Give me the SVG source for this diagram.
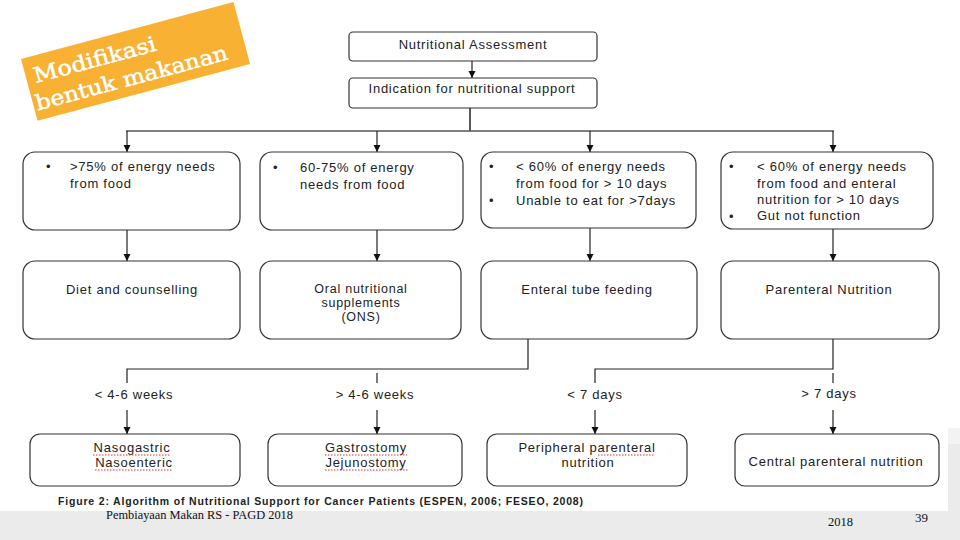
<svg xmlns="http://www.w3.org/2000/svg" width="960" height="540" viewBox="0 0 960 540">
<defs>
<marker id="ah" markerUnits="userSpaceOnUse" markerWidth="8" markerHeight="8" refX="7" refY="3.5" orient="auto">
<path d="M0,0 L7,3.5 L0,7 z" fill="#111"/>
</marker>
<style>
.box{fill:#fff;stroke:#333;stroke-width:1.2}
.t{font-family:"Liberation Sans",Arial,sans-serif;font-size:13px;fill:#222;letter-spacing:0.75px}
.c{text-anchor:middle}
.ln{fill:none;stroke:#222;stroke-width:1.2}
.ar{fill:none;stroke:#222;stroke-width:1.2;marker-end:url(#ah)}
.sp{stroke:#d33;stroke-width:1;stroke-dasharray:1.5 1.5;fill:none}
.lbl{font-family:'DejaVu Serif','Liberation Serif',serif;font-size:21px;fill:#fff;stroke:#fff;stroke-width:0.5}
</style>
</defs>
<rect x="0" y="0" width="960" height="540" fill="#fff"/>
<rect x="0" y="511" width="960" height="29" fill="#ebebeb"/>
<rect x="948" y="428" width="12" height="83" fill="#ebebeb"/>
<rect x="948" y="428" width="12" height="16" fill="#f3f3f3"/>

<g id="label-modifikasi" transform="translate(21,59) rotate(-15)">
<rect x="0" y="0" width="220" height="64" fill="#f8b133"/>
<text class="lbl" x="8" y="27" textLength="126" lengthAdjust="spacingAndGlyphs">Modifikasi</text>
<text class="lbl" x="3" y="54" textLength="198" lengthAdjust="spacingAndGlyphs">bentuk makanan</text>
</g>

<g id="connectors">
<line class="ar" x1="472" y1="61" x2="472" y2="78"/>
<line x1="470" y1="108" x2="470" y2="131" stroke="#222" stroke-width="1.5"/>
<line x1="126" y1="131" x2="834" y2="131" stroke="#555" stroke-width="1.6"/>
<line class="ar" x1="127" y1="131" x2="127" y2="152"/>
<line class="ar" x1="377" y1="131" x2="377" y2="152"/>
<line class="ar" x1="590" y1="131" x2="590" y2="152"/>
<line class="ar" x1="833" y1="131" x2="833" y2="152"/>
<line class="ar" x1="127" y1="230" x2="127" y2="261"/>
<line class="ar" x1="377" y1="230" x2="377" y2="261"/>
<line class="ar" x1="590" y1="228" x2="590" y2="261"/>
<line class="ar" x1="833" y1="229" x2="833" y2="261"/>
<polyline class="ln" points="528,339 528,369 127,369 127,383"/>
<line class="ln" x1="377" y1="373" x2="377" y2="383"/>
<polyline class="ln" points="833,339 833,369 595,369 595,383"/>
<line class="ln" x1="833" y1="373" x2="833" y2="383"/>
<line class="ar" x1="127" y1="410" x2="127" y2="434"/>
<line class="ar" x1="377" y1="410" x2="377" y2="434"/>
<line class="ar" x1="595" y1="410" x2="595" y2="434"/>
<line class="ar" x1="833" y1="410" x2="833" y2="434"/>
<text class="t c" x="134" y="399">&lt; 4-6 weeks</text>
<text class="t c" x="375" y="399">&gt; 4-6 weeks</text>
<text class="t c" x="595" y="399">&lt; 7 days</text>
<text class="t c" x="829" y="398">&gt; 7 days</text>
</g>

<g id="n-assessment">
<rect class="box" x="349" y="32" width="248" height="29" rx="4"/>
<text class="t c" x="473" y="49">Nutritional Assessment</text>
</g>
<g id="n-indication">
<rect class="box" x="349" y="78" width="248" height="30" rx="4"/>
<text class="t c" x="472" y="93">Indication for nutritional support</text>
</g>

<g id="n-c1">
<rect class="box" x="23" y="152" width="217" height="78" rx="12"/>
<text class="t" x="46" y="171">•</text>
<text class="t" x="70" y="171">&gt;75% of energy needs</text>
<text class="t" x="70" y="188">from food</text>
</g>
<g id="n-c2">
<rect class="box" x="260" y="152" width="203" height="78" rx="12"/>
<text class="t" x="273" y="172">•</text>
<text class="t" x="300" y="172">60-75%  of energy</text>
<text class="t" x="300" y="189">needs from food</text>
</g>
<g id="n-c3">
<rect class="box" x="481" y="152" width="215" height="76" rx="12"/>
<text class="t" x="489" y="171">•</text>
<text class="t" x="516" y="171">&lt; 60% of energy needs</text>
<text class="t" x="516" y="188">from food for &gt;  10 days</text>
<text class="t" x="489" y="205">•</text>
<text class="t" x="516" y="205">Unable to eat for &gt;7days</text>
</g>
<g id="n-c4">
<rect class="box" x="721" y="152" width="212" height="77" rx="12"/>
<text class="t" x="729" y="171">•</text>
<text class="t" x="757" y="171">&lt; 60% of energy needs</text>
<text class="t" x="757" y="188">from food and enteral</text>
<text class="t" x="757" y="204">nutrition for &gt;  10 days</text>
<text class="t" x="729" y="221">•</text>
<text class="t" x="757" y="220">Gut not function</text>
</g>

<g id="n-diet">
<rect class="box" x="23" y="261" width="217" height="78" rx="12"/>
<text class="t c" x="132" y="294">Diet and counselling</text>
</g>
<g id="n-ons">
<rect class="box" x="260" y="261" width="201" height="78" rx="12"/>
<text class="t c" x="361" y="293" style="font-size:12.5px">Oral nutritional</text>
<text class="t c" x="361" y="307" style="font-size:12.5px">supplements</text>
<text class="t c" x="361" y="321" style="font-size:12.5px">(ONS)</text>
</g>
<g id="n-enteral">
<rect class="box" x="481" y="261" width="216" height="78" rx="12"/>
<text class="t c" x="587" y="294">Enteral tube feeding</text>
</g>
<g id="n-parenteral">
<rect class="box" x="721" y="261" width="218" height="78" rx="12"/>
<text class="t c" x="829" y="294">Parenteral Nutrition</text>
</g>

<g id="n-naso">
<rect class="box" x="30" y="434" width="210" height="52" rx="10"/>
<text class="t c" x="132" y="452">Nasogastric</text>
<text class="t c" x="134" y="467">Nasoenteric</text>
<line class="sp" x1="93" y1="455" x2="170" y2="455"/>
<line class="sp" x1="95" y1="470" x2="173" y2="470"/>
</g>
<g id="n-gastro">
<rect class="box" x="268" y="434" width="194" height="52" rx="10"/>
<text class="t c" x="366" y="452">Gastrostomy</text>
<text class="t c" x="366" y="467">Jejunostomy</text>
<line class="sp" x1="325" y1="455" x2="407" y2="455"/>
<line class="sp" x1="325" y1="470" x2="408" y2="470"/>
</g>
<g id="n-ppn">
<rect class="box" x="487" y="434" width="200" height="52" rx="10"/>
<text class="t c" x="587" y="452">Peripheral parenteral</text>
<text class="t c" x="588" y="467">nutrition</text>
<line class="sp" x1="598" y1="455" x2="655" y2="455"/>
</g>
<g id="n-cpn">
<rect class="box" x="735" y="434" width="204" height="52" rx="10"/>
<text class="t c" x="836" y="466">Central parenteral nutrition</text>
</g>

<text x="58" y="505" font-family="'Liberation Sans',Arial,sans-serif" font-size="10.5" font-weight="bold" fill="#222" textLength="525" lengthAdjust="spacing">Figure 2: Algorithm  of Nutritional  Support  for Cancer Patients (ESPEN, 2006; FESEO, 2008)</text>
<text x="106" y="519" font-family="'Liberation Serif','Times New Roman',serif" font-size="12" fill="#111" textLength="187" lengthAdjust="spacingAndGlyphs">Pembiayaan Makan RS - PAGD 2018</text>
<text x="828" y="526" font-family="'Liberation Serif','Times New Roman',serif" font-size="12.5" fill="#111">2018</text>
<text x="915" y="522" font-family="'Liberation Serif','Times New Roman',serif" font-size="13" fill="#111">39</text>
</svg>
